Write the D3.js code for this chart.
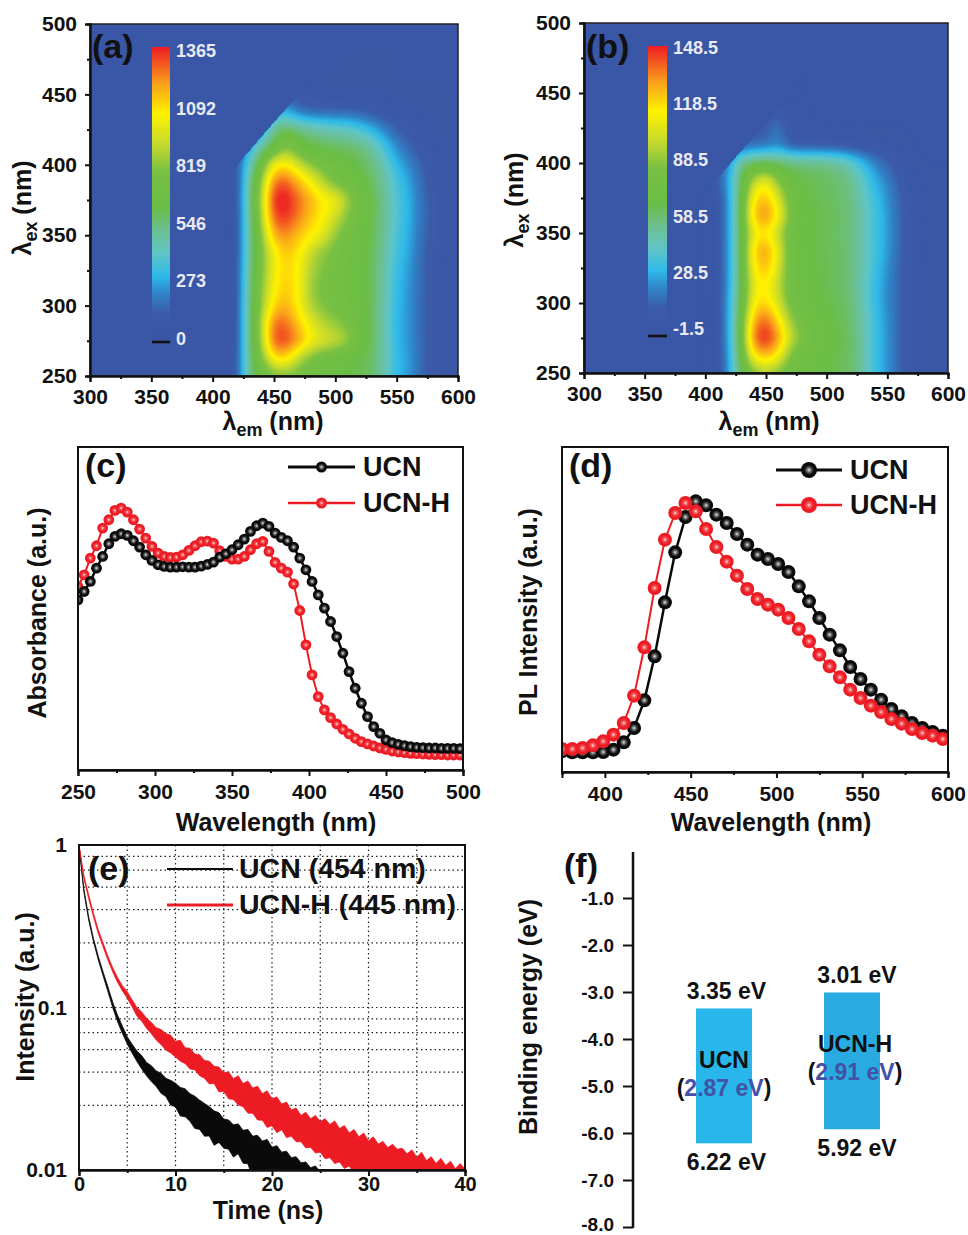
<!DOCTYPE html>
<html>
<head>
<meta charset="utf-8">
<script src="https://cdn.jsdelivr.net/npm/d3@7"></script>
<style>
  html, body { margin: 0; padding: 0; background: #fff; }
  svg { display: block; }
  text { font-family: "Liberation Sans", Arial, sans-serif; font-weight: bold; fill: #111; }
</style>
</head>
<body>
<svg id="chart" width="968" height="1235"></svg>
<script>
// (a), (b) excitation-emission maps on a coarse grid
const exGrid = [250, 262.5, 275, 287.5, 300, 312.5, 325, 337.5, 350, 362.5, 375, 387.5, 400, 412.5, 425, 437.5, 450, 475, 500];
const emGridA = [410, 420, 430, 440, 450, 460, 470, 480, 490, 500, 510, 520, 530, 540, 550, 560, 570, 580, 590];
const emGridB = [400, 410, 420, 430, 440, 450, 460, 470, 480, 490, 500, 510, 520, 530, 540, 550, 560, 570, 580];
const mapA = [
  [60, 120, 560, 680, 760, 780, 760, 720, 680, 660, 640, 620, 590, 470, 320, 280, 170, 110, 70],
  [60, 120, 560, 800, 1100, 1120, 900, 780, 720, 680, 650, 620, 590, 470, 320, 280, 170, 110, 70],
  [60, 110, 560, 880, 1340, 1330, 1220, 1060, 980, 940, 880, 700, 610, 470, 310, 270, 170, 110, 70],
  [60, 110, 560, 900, 1300, 1280, 1130, 1000, 900, 850, 780, 680, 610, 470, 300, 270, 170, 110, 70],
  [60, 110, 560, 850, 1130, 1180, 1060, 880, 800, 760, 720, 660, 610, 470, 310, 270, 170, 110, 70],
  [60, 110, 550, 840, 1060, 1150, 1060, 850, 780, 740, 700, 660, 610, 480, 320, 270, 170, 110, 70],
  [60, 110, 540, 800, 1040, 1130, 1060, 880, 800, 750, 710, 660, 610, 490, 330, 280, 170, 110, 70],
  [60, 100, 520, 790, 1040, 1150, 1090, 920, 830, 770, 720, 670, 610, 500, 350, 290, 180, 110, 70],
  [60, 100, 520, 830, 1190, 1240, 1140, 1080, 1000, 830, 740, 680, 620, 520, 370, 300, 190, 120, 80],
  [60, 100, 520, 880, 1330, 1350, 1240, 1140, 1060, 950, 800, 700, 620, 530, 380, 310, 200, 120, 80],
  [60, 100, 540, 900, 1400, 1400, 1270, 1180, 1070, 1060, 880, 720, 630, 530, 380, 310, 200, 120, 80],
  [60, 100, 520, 860, 1290, 1310, 1170, 1060, 900, 780, 720, 660, 600, 510, 370, 290, 180, 110, 70],
  [60, 120, 440, 730, 1070, 1090, 960, 820, 760, 700, 660, 620, 570, 450, 310, 250, 160, 100, 70],
  [60, 100, 300, 520, 640, 860, 680, 640, 620, 600, 590, 570, 500, 360, 250, 170, 110, 80, 60],
  [60, 80, 100, 240, 560, 620, 560, 520, 480, 450, 440, 380, 320, 230, 150, 110, 80, 70, 60],
  [60, 60, 60, 100, 250, 340, 200, 170, 170, 170, 170, 150, 130, 110, 90, 80, 70, 60, 60],
  [60, 60, 60, 60, 60, 90, 110, 80, 70, 70, 70, 70, 70, 60, 60, 60, 60, 60, 60],
  [60, 60, 60, 60, 60, 60, 60, 60, 60, 60, 60, 60, 60, 60, 60, 60, 60, 60, 60],
  [60, 60, 60, 60, 60, 60, 60, 60, 60, 60, 60, 60, 60, 60, 60, 60, 60, 60, 60]
];
const mapB = [
  [5, 8, 28, 70, 85, 95, 85, 78, 72, 70, 68, 66, 64, 52, 36, 28, 16, 9, 6],
  [5, 8, 30, 74, 120, 128, 116, 85, 76, 72, 70, 66, 64, 52, 36, 28, 16, 9, 6],
  [5, 8, 32, 78, 142, 152, 134, 102, 85, 76, 72, 68, 64, 52, 36, 28, 16, 9, 6],
  [5, 8, 32, 76, 132, 142, 120, 92, 80, 74, 70, 66, 62, 52, 36, 27, 16, 9, 6],
  [5, 8, 32, 72, 118, 122, 105, 82, 74, 70, 68, 65, 62, 50, 34, 26, 16, 9, 6],
  [5, 8, 30, 70, 112, 118, 100, 78, 72, 70, 66, 64, 60, 48, 34, 26, 16, 9, 6],
  [5, 8, 30, 70, 118, 128, 106, 78, 72, 68, 66, 64, 60, 50, 36, 27, 16, 9, 6],
  [5, 8, 30, 70, 124, 134, 110, 78, 72, 68, 66, 64, 60, 50, 38, 29, 17, 9, 6],
  [5, 8, 30, 70, 112, 118, 100, 76, 70, 68, 66, 62, 60, 50, 38, 29, 18, 9, 6],
  [5, 8, 30, 72, 128, 136, 116, 84, 72, 68, 66, 64, 60, 50, 38, 29, 17, 9, 6],
  [5, 8, 30, 70, 120, 128, 106, 80, 70, 66, 65, 62, 60, 48, 36, 27, 16, 9, 6],
  [5, 14, 32, 68, 100, 114, 88, 72, 68, 66, 64, 62, 58, 44, 32, 24, 14, 8, 6],
  [5, 10, 28, 60, 66, 68, 64, 62, 60, 60, 58, 56, 46, 34, 24, 16, 10, 6, 5],
  [5, 5, 12, 16, 18, 20, 25, 14, 12, 12, 12, 11, 10, 9, 8, 7, 6, 5, 5],
  [5, 5, 5, 8, 12, 13, 24, 8, 6, 5, 5, 5, 5, 5, 5, 5, 5, 5, 5],
  [5, 5, 5, 5, 8, 10, 12, 8, 5, 5, 5, 5, 5, 5, 5, 5, 5, 5, 5],
  [5, 5, 5, 5, 5, 5, 7, 7, 5, 5, 5, 5, 5, 5, 5, 5, 5, 5, 5],
  [5, 5, 5, 5, 5, 5, 5, 5, 5, 5, 5, 5, 5, 5, 5, 5, 5, 5, 5],
  [5, 5, 5, 5, 5, 5, 5, 5, 5, 5, 5, 5, 5, 5, 5, 5, 5, 5, 5]
];
const legendTicksA = [0, 273, 546, 819, 1092, 1365];
const legendTicksB = [-1.5, 28.5, 58.5, 88.5, 118.5, 148.5];
const colorPos = [0, 0.1, 0.17, 0.225, 0.3, 0.38, 0.46, 0.58, 0.67, 0.775, 0.876, 1];
const colorVal = ["#3953a4", "#3b5ba9", "#2f85c8", "#2db9ea", "#5fc5c8", "#6cc091", "#6abd45", "#78c043", "#c4d92e", "#fff200", "#f9a01b", "#ed1c24"];

// (c) absorbance, a.u.
const absWave = d3.range(250, 499, 4);
const absUCN = [510, 535, 565, 605, 640, 678, 700, 708, 703, 687, 668, 645, 628, 615, 610, 608, 608, 609, 608, 608, 611, 616, 623, 638, 648, 660, 675, 692, 715, 732, 740, 730, 710, 697, 687, 668, 635, 600, 565, 525, 485, 445, 400, 350, 295, 245, 200, 160, 130, 110, 90, 82, 77, 73, 70, 68, 67, 66, 66, 65, 65, 65, 64];
const absUCNH = [550, 585, 635, 672, 725, 750, 778, 785, 773, 750, 722, 695, 670, 650, 640, 637, 638, 645, 658, 672, 684, 686, 680, 657, 640, 632, 632, 640, 660, 678, 685, 655, 622, 605, 593, 558, 478, 375, 285, 220, 180, 157, 138, 122, 108, 95, 85, 78, 72, 66, 62, 57, 54, 52, 50, 49, 48, 47, 46, 46, 45, 45, 45];

// (d) PL, a.u.
const plWave = d3.range(375, 598, 6);
const plUCN = [62, 59, 59, 59, 60, 67, 89, 132, 215, 347, 509, 659, 765, 812, 800, 772, 747, 714, 682, 652, 639, 624, 600, 557, 512, 462, 412, 365, 315, 279, 247, 217, 189, 167, 147, 132, 120, 109];
const plUCNH = [69, 69, 72, 80, 92, 112, 147, 229, 374, 552, 697, 777, 807, 782, 729, 675, 631, 589, 549, 519, 502, 487, 462, 429, 392, 352, 317, 284, 247, 222, 199, 180, 159, 145, 129, 117, 109, 99];

// (e) decay envelope of the noisy traces, in decades below the peak
const decayTimeUCN = d3.range(0, 26.5, 0.5);
const decayUCNTop = [0, 0.267, 0.441, 0.575, 0.685, 0.782, 0.873, 0.968, 1.048, 1.115, 1.18, 1.226, 1.268, 1.296, 1.338, 1.358, 1.39, 1.404, 1.436, 1.448, 1.466, 1.492, 1.5, 1.53, 1.546, 1.57, 1.59, 1.61, 1.636, 1.648, 1.686, 1.692, 1.722, 1.716, 1.756, 1.75, 1.792, 1.786, 1.822, 1.812, 1.86, 1.85, 1.89, 1.884, 1.924, 1.918, 1.956, 1.95, 1.986, 1.975, 2.01, 2.04, 2.05];
const decayUCNBottom = [0, 0.287, 0.461, 0.595, 0.707, 0.806, 0.903, 1.002, 1.088, 1.16, 1.224, 1.28, 1.332, 1.378, 1.42, 1.456, 1.486, 1.528, 1.548, 1.6, 1.612, 1.668, 1.672, 1.7, 1.744, 1.75, 1.792, 1.79, 1.848, 1.83, 1.866, 1.872, 1.92, 1.9, 1.958, 1.962, 2.05, 2.05, 2.05, 2.05, 2.05, 2.05, 2.05, 2.05, 2.05, 2.05, 2.05, 2.05, 2.05, 2.05, 2.05, 2.05, 2.05];
const decayTimeUCNH = d3.range(0, 40.5, 0.5);
const decayUCNHTop = [0, 0.185, 0.306, 0.42, 0.522, 0.603, 0.685, 0.756, 0.816, 0.866, 0.903, 0.952, 1, 1.028, 1.066, 1.092, 1.125, 1.135, 1.16, 1.17, 1.208, 1.202, 1.248, 1.25, 1.286, 1.29, 1.326, 1.33, 1.362, 1.366, 1.402, 1.396, 1.438, 1.42, 1.468, 1.452, 1.496, 1.484, 1.53, 1.512, 1.562, 1.55, 1.594, 1.582, 1.63, 1.618, 1.664, 1.644, 1.684, 1.664, 1.702, 1.684, 1.72, 1.698, 1.744, 1.726, 1.772, 1.75, 1.796, 1.772, 1.82, 1.796, 1.84, 1.824, 1.862, 1.842, 1.872, 1.866, 1.9, 1.876, 1.922, 1.89, 1.942, 1.918, 1.96, 1.928, 1.972, 1.946, 1.992, 1.96, 1.995];
const decayUCNHBottom = [0, 0.205, 0.33, 0.442, 0.546, 0.627, 0.709, 0.782, 0.846, 0.898, 0.943, 0.996, 1.052, 1.084, 1.128, 1.162, 1.2, 1.228, 1.262, 1.28, 1.305, 1.33, 1.345, 1.378, 1.384, 1.42, 1.436, 1.47, 1.468, 1.52, 1.516, 1.562, 1.566, 1.6, 1.61, 1.65, 1.65, 1.692, 1.694, 1.738, 1.728, 1.77, 1.752, 1.8, 1.792, 1.826, 1.826, 1.864, 1.86, 1.896, 1.89, 1.93, 1.924, 1.96, 1.95, 1.99, 1.975, 2.02, 2.03, 2.04, 2.05, 2.05, 2.05, 2.05, 2.05, 2.05, 2.05, 2.05, 2.05, 2.05, 2.05, 2.05, 2.05, 2.05, 2.05, 2.05, 2.05, 2.05, 2.05, 2.05, 2.05];
const decayGrid = [0.025, 0.04, 0.055, 0.07, 0.085, 0.1, 0.25, 0.4, 0.55, 0.7, 0.85];

// (f) band positions
const bandNames = ["UCN", "UCN-H"];
const bandTop = [-3.35, -3.01];
const bandBottom = [-6.22, -5.92];
const bandGap = ["2.87 eV", "2.91 eV"];
const bandTicks = [-1, -2, -3, -4, -5, -6, -7, -8];

const svg = d3.select("#chart");
const defs = svg.append("defs");

function sphere(id, core, mid, edge) {
  var g = defs.append("radialGradient").attr("id", id);
  g.append("stop").attr("offset", "0%").attr("stop-color", core);
  g.append("stop").attr("offset", "28%").attr("stop-color", mid);
  g.append("stop").attr("offset", "62%").attr("stop-color", edge);
  g.append("stop").attr("offset", "100%").attr("stop-color", edge);
}
sphere("ball-black", "#e6e6e6", "#666", "#0a0a0a");
sphere("ball-red", "#fdd", "#f2575a", "#ed1c24");

function axisStyle(g, size) {
  g.selectAll("text").attr("font-size", size);
  g.selectAll("path, line").attr("stroke", "#111").attr("stroke-width", 2);
}

function bottomAxis(x, py, majors, minors, size, padding) {
  svg.append("g").attr("transform", `translate(0,${py})`)
    .call(d3.axisBottom(x).tickValues(minors).tickSize(3).tickFormat(""))
    .call(axisStyle, size);
  svg.append("g").attr("transform", `translate(0,${py})`)
    .call(d3.axisBottom(x).tickValues(majors).tickSize(6).tickPadding(padding).tickFormat(d3.format("d")))
    .call(axisStyle, size);
}

function label(text, x, y, size, rotate) {
  var t = svg.append("text").attr("font-size", size).attr("text-anchor", "middle");
  if (rotate) t.attr("transform", `translate(${x},${y}) rotate(-90)`);
  else t.attr("x", x).attr("y", y);
  return t.text(text);
}

function subLabel(main, sub, rest, x, y, size, rotate) {
  var t = label("", x, y, size, rotate);
  t.append("tspan").text(main);
  t.append("tspan").attr("font-size", size * 0.72).attr("dy", size * 0.22).text(sub);
  t.append("tspan").attr("dy", -size * 0.22).text(rest);
}

function panelTag(text, x, y) {
  svg.append("text").attr("x", x).attr("y", y).attr("font-size", 34).text(text);
}

// one excitation-emission map with its colour bar
function drawMap(cfg) {
  var w = cfg.x1 - cfg.x0, h = cfg.y1 - cfg.y0;
  var x = d3.scaleLinear([300, 600], [cfg.x0, cfg.x1]);
  var y = d3.scaleLinear([250, 500], [cfg.y1, cfg.y0]);
  var lo = cfg.ticks[0], hi = cfg.ticks[5];
  var color = d3.scaleLinear().domain(colorPos.map(p => lo + p * (hi - lo))).range(colorVal).clamp(true);

  var emIndex = d3.scaleLinear().domain(cfg.em).range(d3.range(cfg.em.length)).clamp(true);
  var exIndex = d3.scaleLinear().domain(exGrid).range(d3.range(exGrid.length)).clamp(true);
  var field = new Float64Array(w * h);
  for (var j = 0; j < h; j++) {
    var fy = exIndex(y.invert(cfg.y0 + j + 0.5));
    var r0 = Math.min(Math.floor(fy), exGrid.length - 2);
    for (var i = 0; i < w; i++) {
      var fx = emIndex(x.invert(cfg.x0 + i + 0.5));
      var c0 = Math.min(Math.floor(fx), cfg.em.length - 2);
      var top = d3.interpolateNumber(cfg.rows[r0][c0], cfg.rows[r0][c0 + 1])(fx - c0);
      var bot = d3.interpolateNumber(cfg.rows[r0 + 1][c0], cfg.rows[r0 + 1][c0 + 1])(fx - c0);
      field[j * w + i] = top + (bot - top) * (fy - r0);
    }
  }
  d3.blur2({ data: field, width: w, height: h }, 5);
  // the scatter line is cut away above the diagonal
  for (var j2 = 0; j2 < h; j2++) {
    var ex = y.invert(cfg.y0 + j2 + 0.5);
    for (var i2 = 0; i2 < w; i2++) {
      if (ex > x.invert(cfg.x0 + i2 + 0.5) + cfg.cut) field[j2 * w + i2] = cfg.rows[18][0];
    }
  }

  var levels = d3.range(90).map(k => lo + (k + 1) / 91 * (hi - lo));
  var g = svg.append("g").attr("transform", `translate(${cfg.x0},${cfg.y0})`);
  g.append("rect").attr("width", w).attr("height", h).attr("fill", colorVal[0]);
  g.selectAll("path")
    .data(d3.contours().size([w, h]).thresholds(levels)(field))
    .enter().append("path")
    .attr("d", d3.geoPath())
    .attr("fill", d => color(d.value));

  // colour bar
  var grad = defs.append("linearGradient").attr("id", cfg.id)
    .attr("x1", 0).attr("x2", 0).attr("y1", 1).attr("y2", 0);
  colorPos.forEach((p, k) => grad.append("stop").attr("offset", p).attr("stop-color", colorVal[k]));
  svg.append("rect").attr("x", cfg.barX).attr("y", cfg.barTop).attr("width", cfg.barW)
    .attr("height", cfg.barBottom - cfg.barTop).attr("fill", `url(#${cfg.id})`);
  svg.append("line").attr("x1", cfg.barX).attr("x2", cfg.barX + cfg.barW)
    .attr("y1", cfg.barBottom - 1).attr("y2", cfg.barBottom - 1).attr("stroke", "#111").attr("stroke-width", 2.5);
  var ly = d3.scaleLinear([lo, hi], cfg.labelRange);
  svg.selectAll(null).data(cfg.ticks).enter().append("text")
    .attr("x", cfg.barX + cfg.barW + 6).attr("y", d => ly(d) + 6)
    .attr("font-size", 18).style("fill", "#e9e9f2").text(d => d);

  svg.append("rect").attr("x", cfg.x0).attr("y", cfg.y0).attr("width", w).attr("height", h)
    .attr("fill", "none").attr("stroke", "#222").attr("stroke-width", 1.5);
  var majors = [300, 350, 400, 450, 500, 550, 600], minors = [325, 375, 425, 475, 525, 575];
  bottomAxis(x, cfg.y1, majors, minors, 21, 7);
  svg.append("g").attr("transform", `translate(${cfg.x0},0)`)
    .call(d3.axisLeft(y).tickValues([275, 325, 375, 425, 475]).tickSize(3).tickFormat(""))
    .call(axisStyle, 21);
  svg.append("g").attr("transform", `translate(${cfg.x0},0)`)
    .call(d3.axisLeft(y).tickValues([250, 300, 350, 400, 450, 500]).tickSize(5).tickPadding(8))
    .call(axisStyle, 21);
  subLabel("λ", "em", " (nm)", cfg.titleX, 430, 25);
  subLabel("λ", "ex", " (nm)", cfg.titleYX, cfg.titleYY, 25, true);
  panelTag(cfg.tag, cfg.x0 + 2, 58);
}

drawMap({ id: "bar-a", tag: "(a)", x0: 90, x1: 458, y0: 24, y1: 376, em: emGridA, rows: mapA, ticks: legendTicksA, cut: -20,
  barX: 152, barW: 18, barTop: 47, barBottom: 343, labelRange: [339, 51], titleX: 273, titleYX: 31, titleYY: 208 });
drawMap({ id: "bar-b", tag: "(b)", x0: 584, x1: 948, y0: 23, y1: 373, em: emGridB, rows: mapB, ticks: legendTicksB, cut: -21,
  barX: 648, barW: 19, barTop: 46, barBottom: 337, labelRange: [329, 48], titleX: 769, titleYX: 523, titleYY: 200 });

// scatter-and-line panels
function drawSpectrum(cfg) {
  var x = d3.scaleLinear(cfg.xDomain, [cfg.x0, cfg.x1]);
  var y = d3.scaleLinear(cfg.yDomain, [cfg.y1, cfg.y0]);
  var clip = cfg.id + "-clip";
  defs.append("clipPath").attr("id", clip).append("rect")
    .attr("x", cfg.x0).attr("y", cfg.y0).attr("width", cfg.x1 - cfg.x0).attr("height", cfg.y1 - cfg.y0);
  var layer = svg.append("g").attr("clip-path", `url(#${clip})`);
  var line = d3.line().x((d, i) => x(cfg.wave[i])).y(d => y(d));
  cfg.series.forEach(s => {
    layer.append("path").attr("d", line(s.values)).attr("fill", "none").attr("stroke", s.color).attr("stroke-width", s.width);
    layer.selectAll(null).data(s.values).enter().append("circle")
      .attr("cx", (d, i) => x(cfg.wave[i])).attr("cy", d => y(d)).attr("r", cfg.r)
      .attr("fill", `url(#${s.ball})`);
  });
  svg.append("rect").attr("x", cfg.x0).attr("y", cfg.y0).attr("width", cfg.x1 - cfg.x0).attr("height", cfg.y1 - cfg.y0)
    .attr("fill", "none").attr("stroke", "#111").attr("stroke-width", 2);
  bottomAxis(x, cfg.y1, cfg.majors, cfg.minors, 21, 8);
  cfg.legend.forEach(l => {
    svg.append("line").attr("x1", cfg.legX0).attr("x2", cfg.legX1).attr("y1", l.y).attr("y2", l.y)
      .attr("stroke", l.color).attr("stroke-width", l.width);
    svg.append("circle").attr("cx", (cfg.legX0 + cfg.legX1) / 2).attr("cy", l.y).attr("r", cfg.legR).attr("fill", `url(#${l.ball})`);
    svg.append("text").attr("x", cfg.legX1 + 8).attr("y", l.y + 9).attr("font-size", 27).text(l.name);
  });
  label("Wavelength (nm)", cfg.titleX, 831, 25);
  label(cfg.yTitle, cfg.yTitleX, cfg.yTitleY, 25, true);
  panelTag(cfg.tag, cfg.x0 + 7, 477);
}

drawSpectrum({
  id: "c", tag: "(c)", x0: 78, x1: 463, y0: 447, y1: 770, xDomain: [250, 500], yDomain: [0, 968], wave: absWave, r: 5.4,
  series: [
    { values: absUCNH, color: "#ed1c24", width: 2, ball: "ball-red" },
    { values: absUCN, color: "#0a0a0a", width: 2.5, ball: "ball-black" }
  ],
  majors: [250, 300, 350, 400, 450, 500], minors: [275, 325, 375, 425, 475],
  legX0: 288, legX1: 355, legR: 5.5, legend: [
    { name: "UCN", y: 467, color: "#0a0a0a", width: 3, ball: "ball-black" },
    { name: "UCN-H", y: 503, color: "#ed1c24", width: 2.5, ball: "ball-red" }
  ],
  titleX: 276, yTitle: "Absorbance (a.u.)", yTitleX: 46, yTitleY: 613
});

drawSpectrum({
  id: "d", tag: "(d)", x0: 562, x1: 948, y0: 447, y1: 772, xDomain: [375, 600], yDomain: [0, 975], wave: plWave, r: 7,
  series: [
    { values: plUCN, color: "#0a0a0a", width: 2.5, ball: "ball-black" },
    { values: plUCNH, color: "#ed1c24", width: 2, ball: "ball-red" }
  ],
  majors: [400, 450, 500, 550, 600], minors: [375, 425, 475, 525, 575],
  legX0: 776, legX1: 842, legR: 8, legend: [
    { name: "UCN", y: 470, color: "#0a0a0a", width: 3, ball: "ball-black" },
    { name: "UCN-H", y: 505, color: "#ed1c24", width: 2.5, ball: "ball-red" }
  ],
  titleX: 771, yTitle: "PL Intensity (a.u.)", yTitleX: 537, yTitleY: 612
});

// (e) time-resolved decay
const xDecay = d3.scaleLinear([0, 40], [79, 465]);
const yDecay = d3.scaleLog([0.01, 1], [1170, 845]);

svg.append("text").attr("x", 239).attr("y", 878).attr("font-size", 28.5).text("UCN (454 nm)");
svg.append("text").attr("x", 239).attr("y", 914).attr("font-size", 28.5).text("UCN-H (445 nm)");
svg.append("line").attr("x1", 167).attr("x2", 233).attr("y1", 869).attr("y2", 869).attr("stroke", "#0a0a0a").attr("stroke-width", 2);
svg.append("line").attr("x1", 167).attr("x2", 233).attr("y1", 905).attr("y2", 905).attr("stroke", "#ed1c24").attr("stroke-width", 3);

svg.selectAll(null).data(decayGrid).enter().append("line")
  .attr("x1", 79).attr("x2", 465).attr("y1", d => yDecay(d)).attr("y2", d => yDecay(d))
  .attr("stroke", "#222").attr("stroke-width", 1.2).attr("stroke-dasharray", "1.5 3");
svg.selectAll(null).data([5, 10, 15, 20, 25, 30, 35]).enter().append("line")
  .attr("x1", d => xDecay(d)).attr("x2", d => xDecay(d)).attr("y1", 845).attr("y2", 1170)
  .attr("stroke", "#222").attr("stroke-width", 1.2).attr("stroke-dasharray", "1.5 3");

defs.append("clipPath").attr("id", "e-clip").append("rect")
  .attr("x", 79).attr("y", 845).attr("width", 386).attr("height", 325);
const decayLayer = svg.append("g").attr("clip-path", "url(#e-clip)");
function decayBand(time, upper, lower, color) {
  var area = d3.area()
    .x((d, i) => xDecay(time[i]))
    .y0((d, i) => yDecay(Math.pow(10, -lower[i])))
    .y1((d, i) => yDecay(Math.pow(10, -upper[i])));
  decayLayer.append("path").attr("d", area(time)).attr("fill", color)
    .attr("stroke", color).attr("stroke-width", 0.8).attr("stroke-linejoin", "round");
}
decayBand(decayTimeUCN, decayUCNTop, decayUCNBottom, "#0a0a0a");
decayBand(decayTimeUCNH, decayUCNHTop, decayUCNHBottom, "#ed1c24");

svg.append("rect").attr("x", 79).attr("y", 845).attr("width", 386).attr("height", 325)
  .attr("fill", "none").attr("stroke", "#111").attr("stroke-width", 2);
bottomAxis(xDecay, 1170, [0, 10, 20, 30, 40], [5, 15, 25, 35], 20, 1);
svg.append("g").attr("transform", "translate(79,0)")
  .call(d3.axisLeft(yDecay).tickValues([0.01, 0.1, 1]).tickSize(0).tickPadding(12).tickFormat(d => d))
  .call(axisStyle, 21)
  .call(g => g.select(".domain").remove());
label("Time (ns)", 268, 1219, 25);
label("Intensity (a.u.)", 34, 997, 25, true);
panelTag("(e)", 88, 880);

// (f) band diagram
const yBand = d3.scaleLinear([-1, -8], [898, 1227]);
const xBand = d3.scaleBand().domain(bandNames).range([696, 880]).paddingInner(0.5625).paddingOuter(0);

svg.append("g").attr("transform", "translate(633,0)")
  .call(d3.axisLeft(yBand).tickValues(bandTicks).tickSize(10).tickPadding(9)
    .tickFormat(d => d3.format(".1f")(d).replace("\u2212", "-")))
  .call(axisStyle, 19)
  .call(g => g.select(".domain").remove())
  .call(g => g.selectAll(".tick text").filter(d => d === -8).attr("y", -3));
svg.append("line").attr("x1", 633).attr("x2", 633).attr("y1", yBand(-0.02)).attr("y2", yBand(-8.02)).attr("stroke", "#111").attr("stroke-width", 2.5);

const fill = ["#29b6ea", "#29abe2"];
bandNames.forEach((name, i) => {
  var cx = xBand(name) + xBand.bandwidth() / 2;
  svg.append("rect").attr("x", xBand(name)).attr("width", xBand.bandwidth())
    .attr("y", yBand(bandTop[i])).attr("height", yBand(bandBottom[i]) - yBand(bandTop[i]))
    .attr("fill", fill[i]);
  label(Math.abs(bandTop[i]).toFixed(2) + " eV", cx + 2.5 + i * 2.5, yBand(bandTop[i]) - 9, 23);
  label(Math.abs(bandBottom[i]).toFixed(2) + " eV", cx + 2.5 + i * 2.5, yBand(bandBottom[i]) + 27, 23);
  var mid = yBand(bandTop[i]) + 60;
  label(name, cx + i * 3, mid, 23);
  var gap = label("", cx + i * 3, mid + 28, 23);
  gap.append("tspan").text("(");
  gap.append("tspan").style("fill", "#4351a6").text(bandGap[i]);
  gap.append("tspan").text(")");
});
label("Binding energy (eV)", 537, 1017, 25, true);
panelTag("(f)", 564, 877);
</script>
</body>
</html>
